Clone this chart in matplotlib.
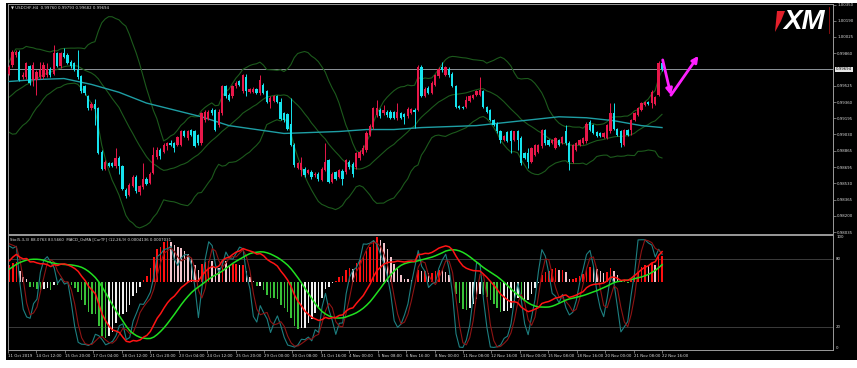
import numpy as np
import pandas as pd
import matplotlib
matplotlib.use("Agg")
import matplotlib.pyplot as plt
from matplotlib.patches import Rectangle, Polygon, FancyArrowPatch

plt.rcParams['font.family'] = ['DejaVu Sans']

# ------------------------------------------------------------------ data
symbol_header = "USDCHF,H4  0.99760 0.99793 0.99682 0.99694"
ind_header = "Sto(5,3,3) 88.0763 83.5660  MACD_OsMA [CurTF] (12,26,9) 0.0004136 0.0007031"

opens = [
    0.9965, 0.9974, 0.9984, 0.9987, 0.9962, 0.9962, 0.9973, 0.9959, 0.9959, 0.9962,
    0.9962, 0.9964, 0.9970, 0.9965, 0.9986, 0.9973, 0.9986, 0.9984, 0.9977, 0.9976,
    0.9969, 0.9963, 0.9952, 0.9942, 0.9930, 0.9934, 0.9930, 0.9885, 0.9868, 0.9874,
    0.9874, 0.9871, 0.9879, 0.9871, 0.9846, 0.9841, 0.9850, 0.9860, 0.9844, 0.9849,
    0.9858, 0.9853, 0.9864, 0.9880, 0.9887, 0.9885, 0.9891, 0.9894, 0.9894, 0.9892,
    0.9892, 0.9906, 0.9899, 0.9908, 0.9906, 0.9902, 0.9894, 0.9918, 0.9919, 0.9928,
    0.9928, 0.9913, 0.9925, 0.9952, 0.9943, 0.9942, 0.9952, 0.9957, 0.9947, 0.9962,
    0.9946, 0.9946, 0.9949, 0.9945, 0.9953, 0.9947, 0.9936, 0.9937, 0.9942, 0.9936,
    0.9925, 0.9924, 0.9914, 0.9892, 0.9869, 0.9867, 0.9868, 0.9864, 0.9865, 0.9862,
    0.9863, 0.9857, 0.9867, 0.9877, 0.9855, 0.9865, 0.9860, 0.9866, 0.9865, 0.9875,
    0.9873, 0.9870, 0.9879, 0.9883, 0.9887, 0.9902, 0.9911, 0.9923, 0.9928, 0.9925,
    0.9926, 0.9926, 0.9926, 0.9920, 0.9925, 0.9924, 0.9922, 0.9925, 0.9928, 0.9928,
    0.9972, 0.9942, 0.9950, 0.9945, 0.9953, 0.9963, 0.9972, 0.9964, 0.9970, 0.9965,
    0.9952, 0.9932, 0.9931, 0.9931, 0.9937, 0.9940, 0.9943, 0.9943, 0.9947, 0.9931,
    0.9928, 0.9918, 0.9914, 0.9906, 0.9897, 0.9905, 0.9906, 0.9897, 0.9906, 0.9899,
    0.9884, 0.9884, 0.9875, 0.9882, 0.9885, 0.9891, 0.9908, 0.9897, 0.9894, 0.9889,
    0.9897, 0.9894, 0.9906, 0.9894, 0.9875, 0.9887, 0.9892, 0.9894, 0.9896, 0.9916,
    0.9913, 0.9905, 0.9904, 0.9900, 0.9899, 0.9906, 0.9925, 0.9909, 0.9906, 0.9892,
    0.9908, 0.9908, 0.9918, 0.9923, 0.9928, 0.9933, 0.9936, 0.9935, 0.9934, 0.9943,
    0.99760]
highs = [
    0.9974, 0.9989, 0.9989, 0.9989, 0.9967, 0.9977, 0.9974, 0.9977, 0.9969, 0.9977,
    0.9977, 0.9976, 0.9972, 0.9994, 0.9987, 0.9987, 0.9991, 0.9986, 0.9979, 0.9977,
    0.9989, 0.9964, 0.9953, 0.9943, 0.9936, 0.9939, 0.9931, 0.9887, 0.9877, 0.9875,
    0.9875, 0.9889, 0.9881, 0.9872, 0.9848, 0.9853, 0.9862, 0.9862, 0.9851, 0.9874,
    0.9860, 0.9865, 0.9890, 0.9890, 0.9889, 0.9894, 0.9895, 0.9897, 0.9895, 0.9901,
    0.9908, 0.9908, 0.9908, 0.9909, 0.9908, 0.9903, 0.9926, 0.9928, 0.9928, 0.9930,
    0.9929, 0.9929, 0.9953, 0.9953, 0.9945, 0.9953, 0.9957, 0.9959, 0.9965, 0.9965,
    0.9950, 0.9951, 0.9950, 0.9964, 0.9955, 0.9948, 0.9942, 0.9943, 0.9943, 0.9940,
    0.9926, 0.9925, 0.9940, 0.9894, 0.9875, 0.9880, 0.9870, 0.9868, 0.9867, 0.9865,
    0.9865, 0.9870, 0.9894, 0.9878, 0.9865, 0.9866, 0.9868, 0.9868, 0.9878, 0.9877,
    0.9875, 0.9885, 0.9887, 0.9892, 0.9906, 0.9914, 0.9931, 0.9938, 0.9930, 0.9933,
    0.9928, 0.9928, 0.9927, 0.9935, 0.9926, 0.9925, 0.9931, 0.9930, 0.9930, 0.9974,
    0.9974, 0.9951, 0.9952, 0.9957, 0.9965, 0.9972, 0.9977, 0.9973, 0.9972, 0.9967,
    0.9953, 0.9933, 0.9932, 0.9942, 0.9943, 0.9944, 0.9948, 0.9962, 0.9948, 0.9932,
    0.9929, 0.9919, 0.9916, 0.9908, 0.9902, 0.9906, 0.9908, 0.9907, 0.9908, 0.9901,
    0.9885, 0.9889, 0.9890, 0.9893, 0.9893, 0.9909, 0.9909, 0.9898, 0.9898, 0.9900,
    0.9898, 0.9901, 0.9913, 0.9896, 0.9893, 0.9895, 0.9898, 0.9900, 0.9916, 0.9918,
    0.9914, 0.9906, 0.9905, 0.9905, 0.9914, 0.9935, 0.9935, 0.9910, 0.9908, 0.9909,
    0.9909, 0.9919, 0.9926, 0.9931, 0.9936, 0.9937, 0.9937, 0.9948, 0.9942, 0.99775,
    0.99793]
lows = [
    0.9964, 0.9972, 0.9982, 0.9957, 0.9960, 0.9960, 0.9953, 0.9952, 0.9943, 0.9960,
    0.9960, 0.9962, 0.9962, 0.9964, 0.9972, 0.9971, 0.9981, 0.9975, 0.9971, 0.9968,
    0.9960, 0.9945, 0.9943, 0.9928, 0.9928, 0.9913, 0.9883, 0.9867, 0.9867, 0.9870,
    0.9870, 0.9869, 0.9863, 0.9846, 0.9838, 0.9840, 0.9849, 0.9843, 0.9841, 0.9847,
    0.9851, 0.9852, 0.9863, 0.9878, 0.9878, 0.9884, 0.9887, 0.9891, 0.9885, 0.9891,
    0.9891, 0.9900, 0.9897, 0.9901, 0.9890, 0.9892, 0.9892, 0.9916, 0.9918, 0.9923,
    0.9906, 0.9911, 0.9923, 0.9940, 0.9937, 0.9940, 0.9950, 0.9952, 0.9945, 0.9942,
    0.9945, 0.9945, 0.9944, 0.9943, 0.9944, 0.9935, 0.9930, 0.9936, 0.9935, 0.9918,
    0.9916, 0.9908, 0.9891, 0.9870, 0.9868, 0.9861, 0.9860, 0.9863, 0.9858, 0.9860,
    0.9856, 0.9856, 0.9866, 0.9853, 0.9853, 0.9857, 0.9859, 0.9851, 0.9863, 0.9868,
    0.9860, 0.9868, 0.9877, 0.9882, 0.9885, 0.9901, 0.9909, 0.9921, 0.9920, 0.9923,
    0.9921, 0.9919, 0.9919, 0.9918, 0.9919, 0.9914, 0.9920, 0.9924, 0.9910, 0.9927,
    0.9941, 0.9941, 0.9944, 0.9944, 0.9952, 0.9961, 0.9967, 0.9963, 0.9962, 0.9951,
    0.9930, 0.9929, 0.9929, 0.9930, 0.9936, 0.9939, 0.9942, 0.9942, 0.9930, 0.9925,
    0.9917, 0.9912, 0.9904, 0.9894, 0.9896, 0.9895, 0.9884, 0.9896, 0.9887, 0.9872,
    0.9878, 0.9869, 0.9874, 0.9881, 0.9884, 0.9889, 0.9892, 0.9891, 0.9893, 0.9888,
    0.9891, 0.9893, 0.9892, 0.9867, 0.9874, 0.9886, 0.9891, 0.9893, 0.9894, 0.9906,
    0.9903, 0.9900, 0.9900, 0.9899, 0.9898, 0.9904, 0.9908, 0.9901, 0.9890, 0.9891,
    0.9901, 0.9902, 0.9917, 0.9922, 0.9927, 0.9932, 0.9933, 0.9930, 0.9933, 0.9942,
    0.99682]
closes = [
    0.9972, 0.9987, 0.9987, 0.9959, 0.9964, 0.9976, 0.9955, 0.9974, 0.9967, 0.9969,
    0.9974, 0.9970, 0.9964, 0.9986, 0.9973, 0.9986, 0.9982, 0.9976, 0.9973, 0.9969,
    0.9962, 0.9947, 0.9945, 0.9930, 0.9934, 0.9929, 0.9884, 0.9868, 0.9875, 0.9871,
    0.9871, 0.9879, 0.9871, 0.9847, 0.9840, 0.9851, 0.9860, 0.9845, 0.9850, 0.9858,
    0.9852, 0.9863, 0.9882, 0.9887, 0.9881, 0.9892, 0.9894, 0.9892, 0.9889, 0.9900,
    0.9906, 0.9901, 0.9906, 0.9902, 0.9891, 0.9894, 0.9925, 0.9926, 0.9926, 0.9925,
    0.9908, 0.9926, 0.9952, 0.9942, 0.9938, 0.9952, 0.9955, 0.9953, 0.9964, 0.9947,
    0.9949, 0.9949, 0.9945, 0.9959, 0.9945, 0.9936, 0.9940, 0.9942, 0.9936, 0.9919,
    0.9918, 0.9909, 0.9892, 0.9872, 0.9874, 0.9874, 0.9862, 0.9867, 0.9860, 0.9863,
    0.9858, 0.9868, 0.9875, 0.9855, 0.9863, 0.9858, 0.9867, 0.9858, 0.9877, 0.9870,
    0.9863, 0.9884, 0.9885, 0.9889, 0.9904, 0.9912, 0.9930, 0.9930, 0.9922, 0.9928,
    0.9923, 0.9920, 0.9920, 0.9926, 0.9920, 0.9921, 0.9929, 0.9929, 0.9926, 0.9972,
    0.9942, 0.9949, 0.9945, 0.9955, 0.9964, 0.9970, 0.9969, 0.9972, 0.9964, 0.9952,
    0.9931, 0.9930, 0.9930, 0.9938, 0.9942, 0.9943, 0.9947, 0.9948, 0.9931, 0.9926,
    0.9918, 0.9913, 0.9906, 0.9897, 0.9901, 0.9896, 0.9896, 0.9906, 0.9897, 0.9874,
    0.9879, 0.9875, 0.9889, 0.9892, 0.9892, 0.9908, 0.9894, 0.9892, 0.9897, 0.9899,
    0.9892, 0.9900, 0.9894, 0.9875, 0.9892, 0.9894, 0.9897, 0.9899, 0.9914, 0.9908,
    0.9904, 0.9901, 0.9901, 0.9904, 0.9913, 0.9925, 0.9909, 0.9902, 0.9894, 0.9908,
    0.9902, 0.9918, 0.9925, 0.9930, 0.9935, 0.9936, 0.9934, 0.9946, 0.9941, 0.9976,
    0.99694]
# closes before the first visible bar (feed the indicator windows)
prior_closes = [0.9930, 0.9922, 0.9915, 0.9920, 0.9928, 0.9925, 0.9918, 0.9926, 0.9935, 0.9932,
                0.9940, 0.9948, 0.9945, 0.9952, 0.9958, 0.9955, 0.9962, 0.9968, 0.9966]
# long moving average (cyan), read every 8 bars plus the last bar
ma_long_bars = list(range(0, 185, 8)) + [190]
ma_long = [0.9957, 0.9959, 0.9960, 0.9954, 0.9946, 0.9935, 0.9928, 0.9921, 0.9912, 0.9908,
           0.9904, 0.9905, 0.9906, 0.9908, 0.9908, 0.9910, 0.9911, 0.9912, 0.9915, 0.9918,
           0.9921, 0.9920, 0.9917, 0.9912, 0.9910]
bid_price = 0.99694
price_ticks = [1.00350, 1.00190, 1.00025, 0.99860, 0.99525, 0.99360, 0.99195, 0.99030,
               0.98865, 0.98695, 0.98530, 0.98365, 0.98200, 0.98035]
time_labels = ["11 Oct 2019", "14 Oct 12:00", "15 Oct 20:00", "17 Oct 04:00", "18 Oct 12:00",
               "21 Oct 20:00", "23 Oct 04:00", "24 Oct 12:00", "25 Oct 20:00", "29 Oct 00:00",
               "30 Oct 08:00", "31 Oct 16:00", "4 Nov 00:00", "5 Nov 08:00", "6 Nov 16:00",
               "8 Nov 00:00", "11 Nov 08:00", "12 Nov 16:00", "14 Nov 00:00", "15 Nov 08:00",
               "18 Nov 16:00", "20 Nov 00:00", "21 Nov 08:00", "22 Nov 16:00"]
sto_levels = [80, 20]

# ------------------------------------------------------------------ indicators
n = len(closes)
npr = len(prior_closes)
c_all = pd.Series(prior_closes + closes)
h_all = pd.Series(prior_closes + highs)
l_all = pd.Series(prior_closes + lows)

bb_mid = c_all.rolling(20).mean()
bb_sd = c_all.rolling(20).std(ddof=0)
bb_up = (bb_mid + 2 * bb_sd).values[npr:]
bb_lo = (bb_mid - 2 * bb_sd).values[npr:]
bb_mid = bb_mid.values[npr:]

ll = l_all.rolling(5, min_periods=1).min()
hh = h_all.rolling(5, min_periods=1).max()
sto_k = 100 * (c_all - ll).rolling(3, min_periods=1).sum() / (hh - ll).rolling(3, min_periods=1).sum()
sto_d = sto_k.rolling(3, min_periods=1).mean()
sto_k = sto_k.values[npr:]
sto_d = sto_d.values[npr:]

ema12 = c_all.ewm(span=12, adjust=False).mean()
ema26 = c_all.ewm(span=26, adjust=False).mean()
macd = ema12 - ema26
sig = macd.rolling(9, min_periods=1).mean()
osma = macd - sig
macd = macd.values[npr:]
sig = sig.values[npr:]
osma = osma.values[npr:]

# ------------------------------------------------------------------ layout
W, H = 857, 368
BULL = '#e8184a'
BEAR = '#16e3ee'
BB_COL = '#1c5a1c'
MA_COL = '#1e9ea4'
FRAME = '#9a9a9a'
TXT = '#dedede'
FS = 2.8

fig = plt.figure(figsize=(W / 100, H / 100), dpi=100)
fig.patch.set_facecolor('white')
fig.patches.append(Rectangle((6 / W, 1 - 360 / H), 1 - 6 / W, 357 / H,
                             transform=fig.transFigure, fc='black', ec='none', zorder=-5))


def px_axes(x0, y0, x1, y1):
    a = fig.add_axes([x0 / W, 1 - y1 / H, (x1 - x0) / W, (y1 - y0) / H])
    a.set_facecolor('black')
    for sp in a.spines.values():
        sp.set_color(FRAME)
        sp.set_linewidth(0.7)
    return a


xi = np.arange(n)
BAR_PX, X0_PX = (662 - 9) / (n - 1), 9.0
xlim = ((8 - X0_PX) / BAR_PX, (833 - X0_PX) / BAR_PX)
PPX = (1.00350 - 0.98035) / 227.0


def price_at(py):
    return 1.00350 - (py - 5) * PPX


# ------------------------------------------------------------------ price panel
ax = px_axes(8, 4, 833, 233.5)
ax.set_xlim(*xlim)
ax.set_ylim(price_at(233.5), price_at(4))

o, h, l, c = (np.array(v) for v in (opens, highs, lows, closes))
col = np.where(c >= o, BULL, BEAR)
body_lo = np.minimum(o, c)
body_hi = np.maximum(o, c)
ax.vlines(xi, np.minimum(l, body_lo), np.maximum(h, body_hi), colors=col, lw=0.7, zorder=4)
ax.bar(xi, np.maximum(body_hi - body_lo, 0.00004), bottom=body_lo, width=0.66,
       color=col, edgecolor='none', zorder=5)

ax.plot(xi, bb_up, color=BB_COL, lw=0.8, zorder=2)
ax.plot(xi, bb_mid, color=BB_COL, lw=0.8, zorder=2)
ax.plot(xi, bb_lo, color=BB_COL, lw=0.8, zorder=2)
ax.plot(ma_long_bars, ma_long, color=MA_COL, lw=1.0, zorder=3)
ax.axhline(bid_price, color='#8e949a', lw=0.7, zorder=1)

ax.set_xticks([])
ax.yaxis.tick_right()
ax.set_yticks(price_ticks)
ax.set_yticklabels([f"{v:.5f}" for v in price_ticks])
ax.tick_params(axis='y', direction='out', length=2.2, width=0.5, color=FRAME,
               labelcolor=TXT, labelsize=FS, pad=0.8)
ax.annotate(f"{bid_price:.5f}", xy=(1, bid_price), xycoords=('axes fraction', 'data'),
            xytext=(2.2, 0), textcoords='offset points', ha='left', va='center',
            fontsize=FS, color='black',
            bbox=dict(boxstyle='square,pad=0.2', fc='#e6e6e6', ec='none'), annotation_clip=False)
ax.annotate("\u25bc " + symbol_header, xy=(0, 1), xycoords='axes fraction', xytext=(2, -1.3),
            textcoords='offset points', ha='left', va='top', fontsize=FS, color=TXT)

# forecast arrows
ARW = '#ff20ff'
p_start = (n - 1 + 0.2, 0.99790)
p_mid = (n - 1 + 2.6, 0.99430)
p_end = (n - 1 + 10.6, 0.99832)
for a, b in ((p_start, p_mid), (p_mid, p_end)):
    ax.add_patch(FancyArrowPatch(a, b, arrowstyle='-|>', mutation_scale=9, lw=2.0,
                                 color=ARW, shrinkA=0, shrinkB=0, zorder=7))

# ------------------------------------------------------------------ indicator panel
PXU = 1.1333  # pixels per stochastic unit
ax2 = px_axes(8, 235, 833, 350)
ax2.set_xlim(*xlim)
ax2.set_ylim(0, (350 - 235) / PXU)
zero_lvl = (350 - 282) / PXU
S_u = 53.0 / np.nanmax(np.abs(macd))

prev = np.concatenate([[osma[0]], osma[:-1]])
hcol = np.where(osma >= 0, np.where(osma >= prev, '#ff1010', '#f2c4cc'),
                np.where(osma < prev, '#38c038', '#f0f0f0'))
ax2.bar(xi, 2.0 * osma * S_u, bottom=zero_lvl, width=0.45, color=hcol, edgecolor='none', zorder=2)

for lv in sto_levels:
    ax2.axhline(lv, color='#8a8a8a', lw=0.6, ls=(0, (1.2, 1.2)), zorder=1)

ax2.plot(xi, sto_k, color='#1d7f80', lw=0.8, zorder=3)
ax2.plot(xi, sto_d, color='#8e1414', lw=0.8, zorder=3)
ax2.plot(xi, zero_lvl + sig * S_u, color='#20e020', lw=1.1, zorder=4)
ax2.plot(xi, zero_lvl + macd * S_u, color='#ff1414', lw=1.1, zorder=4)

ax2.set_yticks([])
tick_pos = np.linspace((7.5 - X0_PX) / BAR_PX, n - 1, len(time_labels))
ax2.set_xticks(tick_pos)
ax2.set_xticklabels(time_labels)
for t in ax2.get_xticklabels():
    t.set_horizontalalignment('left')
ax2.tick_params(axis='x', direction='out', length=2.0, width=0.5, color=FRAME,
                labelcolor=TXT, labelsize=FS, pad=0.8)

for lv, va, yy in ((100, 'top', (350 - 235) / PXU), (80, 'center', 80), (20, 'center', 20), (0, 'bottom', 0)):
    ax2.annotate(str(lv), xy=(1, yy), xycoords=('axes fraction', 'data'), xytext=(2.2, 0),
                 textcoords='offset points', ha='left', va=va, fontsize=FS, color=TXT,
                 annotation_clip=False)
ax2.annotate(ind_header, xy=(0, 1), xycoords='axes fraction', xytext=(1.5, -2.0),
             textcoords='offset points', ha='left', va='top', fontsize=FS, color=TXT, zorder=6)

# ------------------------------------------------------------------ watermark logo
ov = fig.add_axes([0, 0, 1, 1], zorder=10)
ov.set_xlim(0, W)
ov.set_ylim(H, 0)
ov.axis('off')
ov.add_patch(Polygon([(777, 11), (785, 11), (781, 21), (775, 32)], closed=True,
                     fc='#e3202b', ec='none'))
ov.text(804, 22, "XM", fontsize=20, fontweight='bold', style='italic',
        family=['Liberation Sans', 'DejaVu Sans'], color='white', ha='center', va='center')
ov.plot([829, 829], [7, 33], color='#9a1010', lw=0.6)

fig.savefig("out.png", dpi=100, facecolor=fig.get_facecolor())
